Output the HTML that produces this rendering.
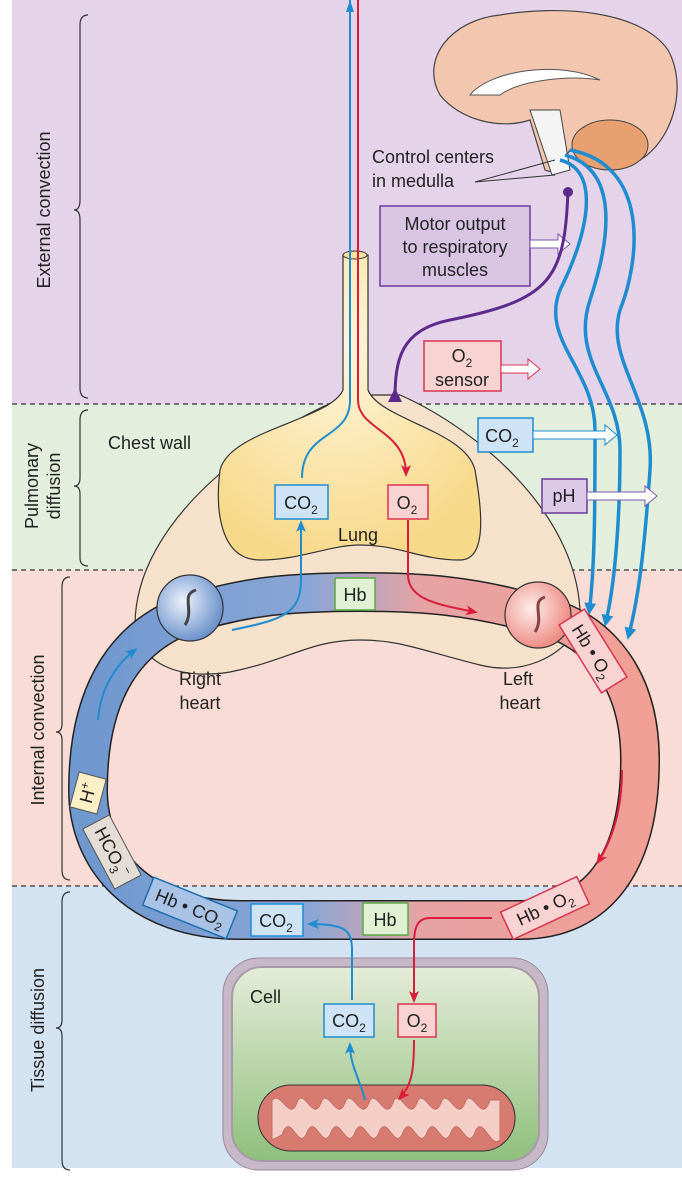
<!DOCTYPE html>
<html><head><meta charset="utf-8"><style>
body{margin:0;background:#fff}
svg{display:block;font-family:"Liberation Sans",sans-serif}
</style></head><body>
<svg width="682" height="1181" viewBox="0 0 682 1181">
<defs>
<linearGradient id="tube" x1="0" x2="1" y1="0" y2="0">
<stop offset="0" stop-color="#6f98cf"/><stop offset="0.4" stop-color="#8aa6d6"/><stop offset="0.6" stop-color="#e6a3a4"/><stop offset="1" stop-color="#f29f95"/></linearGradient>
<radialGradient id="lungg" cx="0.45" cy="0.3" r="0.7"><stop offset="0" stop-color="#fff6dc"/><stop offset="1" stop-color="#f7d98a"/></radialGradient>
<linearGradient id="cellg" x1="0" x2="0" y1="0" y2="1"><stop offset="0" stop-color="#e4ecd8"/><stop offset="1" stop-color="#8fbf7c"/></linearGradient>
<radialGradient id="rh" cx="0.4" cy="0.4" r="0.6"><stop offset="0" stop-color="#eef2fb"/><stop offset="1" stop-color="#6d93cc"/></radialGradient>
<radialGradient id="lh" cx="0.4" cy="0.4" r="0.6"><stop offset="0" stop-color="#fdeeea"/><stop offset="1" stop-color="#ee8c85"/></radialGradient>
<marker id="ab" markerUnits="userSpaceOnUse" markerWidth="12" markerHeight="12" refX="9" refY="6" orient="auto"><path d="M0,1 L12,6 L0,11 L3,6 Z" fill="#1f8ccf"/></marker>
<marker id="ar" markerUnits="userSpaceOnUse" markerWidth="12" markerHeight="12" refX="9" refY="6" orient="auto"><path d="M0,1 L12,6 L0,11 L3,6 Z" fill="#d91e3c"/></marker>
<marker id="tb" markerUnits="userSpaceOnUse" markerWidth="12" markerHeight="12" refX="2" refY="6" orient="auto"><path d="M0,0 L12,6 L0,12 Z" fill="#1f8ccf"/></marker>
</defs>
<rect x="12" y="0" width="670" height="404" fill="#e4d3e9"/>
<rect x="12" y="404" width="670" height="166" fill="#e4eedc"/>
<rect x="12" y="570" width="670" height="316" fill="#f8dcd5"/>
<rect x="12" y="886" width="670" height="282" fill="#d4e3f2"/>
<g stroke="#333" stroke-dasharray="5,4" stroke-width="1.2">
<line x1="12" y1="404" x2="682" y2="404"/><line x1="12" y1="570" x2="682" y2="570"/><line x1="12" y1="886" x2="682" y2="886"/></g>
<g fill="none" stroke="#333" stroke-width="1.2">
<path d="M88,15 Q80,15 80,25 L80,200 Q80,210 74,210 Q80,210 80,220 L80,388 Q80,398 88,398"/>
<path d="M88,410 Q80,410 80,420 L80,478 Q80,486 74,486 Q80,486 80,494 L80,558 Q80,566 88,566"/>
<path d="M70,577 Q62,577 62,587 L62,724 Q62,732 56,732 Q62,732 62,740 L62,870 Q62,880 70,880"/>
<path d="M70,892 Q62,892 62,902 L62,1020 Q62,1028 56,1028 Q62,1028 62,1036 L62,1160 Q62,1170 70,1170"/>
</g>
<g font-size="18" fill="#222">
<text transform="translate(50,210) rotate(-90)" text-anchor="middle">External convection</text>
<text transform="translate(38,486) rotate(-90)" text-anchor="middle">Pulmonary</text>
<text transform="translate(60,486) rotate(-90)" text-anchor="middle">diffusion</text>
<text transform="translate(44,730) rotate(-90)" text-anchor="middle">Internal convection</text>
<text transform="translate(44,1030) rotate(-90)" text-anchor="middle">Tissue diffusion</text>
</g>
<path d="M135,625 C135,520 260,430 350,395 L400,395 C480,430 585,520 580,625 C560,660 520,675 480,665 C420,650 400,640 360,640 C310,640 290,660 230,672 C180,680 140,665 135,625 Z" fill="#f6e1cb" stroke="#333" stroke-width="1.2"/>
<line x1="232" y1="455" x2="250" y2="470" stroke="#333"/>
<text x="108" y="449" font-size="18" fill="#222">Chest wall</text>
<path d="M343,255 L343,390 C330,420 230,430 220,470 C215,510 220,560 260,560 C300,560 330,545 360,545 C400,545 420,560 460,560 C490,560 480,500 475,470 C465,430 380,420 368,390 L368,255 Z" fill="url(#lungg)" stroke="#333" stroke-width="1.2"/>
<ellipse cx="355" cy="255" rx="12" ry="4" fill="#f5e2a0" stroke="#333"/>
<text x="358" y="541" font-size="18" text-anchor="middle" fill="#222">Lung</text>
<path d="M350,0 L350,400 C350,440 302,430 302,478" fill="none" stroke="#1f8ccf" stroke-width="2"/>
<path d="M346,12 L350,0 L354,12 Z" fill="#1f8ccf"/>
<path d="M358,0 L358,400 C358,430 406,430 406,474" fill="none" stroke="#d91e3c" stroke-width="2" marker-end="url(#ar)"/>
<g>
<path d="M440,95 C420,60 450,20 500,15 C560,5 640,10 668,50 C690,90 670,150 630,165 C600,175 590,150 570,150 C560,165 555,175 545,170 L530,120 C500,130 460,120 440,95 Z" fill="#f3c6b0" stroke="#444" stroke-width="1.2"/>
<path d="M470,95 C490,70 560,60 600,80 C570,75 520,80 500,95 Z" fill="#fff" stroke="#555"/>
<ellipse cx="610" cy="145" rx="38" ry="25" fill="#e8a070" stroke="#444"/>
<path d="M530,110 L560,110 L570,170 L552,175 Z" fill="#f4f4f4" stroke="#444"/>
</g>
<text x="372" y="163" font-size="18" fill="#222">Control centers</text>
<text x="372" y="187" font-size="18" fill="#222">in medulla</text>
<line x1="475" y1="182" x2="555" y2="160" stroke="#333"/><line x1="475" y1="182" x2="555" y2="175" stroke="#333"/>
<rect x="380" y="206" width="150" height="80" fill="#d9c4e4" stroke="#6a3b9a" stroke-width="1.5"/>
<text x="455" y="230" font-size="18" text-anchor="middle" fill="#222">Motor output</text>
<text x="455" y="253" font-size="18" text-anchor="middle" fill="#222">to respiratory</text>
<text x="455" y="276" font-size="18" text-anchor="middle" fill="#222">muscles</text>
<path d="M530,240 L558,240 L558,234 L570,244 L558,254 L558,248 L530,248 Z" fill="#fff" stroke="#7a5aa8"/>
<path d="M568,190 C565,280 550,300 450,320 C400,330 395,360 395,400" fill="none" stroke="#5b2a8a" stroke-width="3"/>
<circle cx="568" cy="192" r="5" fill="#5b2a8a"/>
<path d="M388,402 L395,388 L402,402 Z" fill="#5b2a8a"/>
<g fill="none" stroke="#1f8ccf" stroke-width="3.5">
<path d="M560,160 C600,170 590,230 560,290 C540,340 595,370 595,430 C595,500 595,560 590,605" marker-end="url(#tb)"/>
<path d="M565,155 C620,170 610,240 590,300 C570,360 620,390 620,450 C620,520 615,580 607,617" marker-end="url(#tb)"/>
<path d="M570,150 C650,165 640,260 620,310 C605,360 655,400 650,470 C645,540 640,590 630,630" marker-end="url(#tb)"/>
</g>
<rect x="424" y="341" width="77" height="50" fill="#f9d3d2" stroke="#d9354f" stroke-width="1.5"/>
<text x="462" y="362" font-size="18" text-anchor="middle" fill="#222">O<tspan font-size="12" dy="5">2</tspan></text>
<text x="462" y="386" font-size="18" text-anchor="middle" fill="#222">sensor</text>
<path d="M501,365 L528,365 L528,359 L540,369 L528,379 L528,373 L501,373 Z" fill="#fff" stroke="#d9354f"/>
<rect x="478" y="418" width="55" height="34" fill="#cfe3f6" stroke="#1f8ccf" stroke-width="1.5"/>
<text x="502" y="442" font-size="18" text-anchor="middle" fill="#222">CO<tspan font-size="12" dy="5">2</tspan></text>
<path d="M533,431 L605,431 L605,425 L617,435 L605,445 L605,439 L533,439 Z" fill="#fff" stroke="#1f8ccf"/>
<rect x="542" y="479" width="45" height="34" fill="#dcc9e8" stroke="#6a3b9a" stroke-width="1.5"/>
<text x="564" y="502" font-size="18" text-anchor="middle" fill="#222">pH</text>
<path d="M587,492 L645,492 L645,486 L657,496 L645,506 L645,500 L587,500 Z" fill="#fff" stroke="#7a5aa8"/>
<rect x="275" y="485" width="53" height="34" fill="#cfe3f6" stroke="#1f8ccf" stroke-width="1.5"/>
<text x="301" y="509" font-size="18" text-anchor="middle" fill="#222">CO<tspan font-size="12" dy="5">2</tspan></text>
<rect x="388" y="485" width="40" height="34" fill="#f9d3d2" stroke="#d9354f" stroke-width="1.5"/>
<text x="407" y="509" font-size="18" text-anchor="middle" fill="#222">O<tspan font-size="12" dy="5">2</tspan></text>
<path d="M185,615 C120,640 88,700 88,790 C88,860 140,920 240,920 L520,920 C600,920 640,860 640,760 C640,680 600,630 540,615 C470,595 420,592 360,592 C280,592 240,598 185,615 Z" fill="none" stroke="#222" stroke-width="40"/>
<path d="M185,615 C120,640 88,700 88,790 C88,860 140,920 240,920 L520,920 C600,920 640,860 640,760 C640,680 600,630 540,615 C470,595 420,592 360,592 C280,592 240,598 185,615 Z" fill="none" stroke="url(#tube)" stroke-width="37"/>
<circle cx="190" cy="608" r="33" fill="url(#rh)" stroke="#333" stroke-width="1.2"/>
<path d="M196,590 C180,595 195,610 185,625" fill="none" stroke="#444" stroke-width="3"/>
<circle cx="538" cy="615" r="33" fill="url(#lh)" stroke="#333" stroke-width="1.2"/>
<path d="M545,597 C530,602 545,617 535,632" fill="none" stroke="#844" stroke-width="3"/>
<text x="200" y="685" font-size="18" text-anchor="middle" fill="#222">Right</text>
<text x="200" y="709" font-size="18" text-anchor="middle" fill="#222">heart</text>
<text x="518" y="685" font-size="18" text-anchor="middle" fill="#222">Left</text>
<text x="520" y="709" font-size="18" text-anchor="middle" fill="#222">heart</text>
<path d="M232,630 C280,620 301,615 301,580 L301,523" fill="none" stroke="#1f8ccf" stroke-width="2" marker-end="url(#ab)"/>
<path d="M408,520 L408,575 C408,600 440,605 475,612" fill="none" stroke="#d91e3c" stroke-width="2" marker-end="url(#ar)"/>
<rect x="335" y="578" width="40" height="32" fill="#dff0d3" stroke="#5aa845" stroke-width="1.5"/>
<text x="355" y="601" font-size="18" text-anchor="middle" fill="#222">Hb</text>
<g transform="translate(593,651) rotate(58)">
<rect x="-40" y="-15" width="80" height="30" fill="#f9d3d2" stroke="#d9354f" stroke-width="1.5"/>
<text x="0" y="7" font-size="18" text-anchor="middle" fill="#222">Hb • O<tspan font-size="12" dy="5">2</tspan></text></g>
<path d="M98,720 C100,690 115,665 135,650" fill="none" stroke="#1f8ccf" stroke-width="2" marker-end="url(#ab)"/>
<path d="M622,770 C622,810 612,840 598,862" fill="none" stroke="#d91e3c" stroke-width="2" marker-end="url(#ar)"/>
<g transform="translate(88,793) rotate(-75)"><rect x="-18" y="-14" width="36" height="28" fill="#fbefc6" stroke="#555"/><text x="0" y="6" font-size="18" text-anchor="middle" fill="#222">H<tspan font-size="12" dy="-7">+</tspan></text></g>
<g transform="translate(112,852) rotate(62)"><rect x="-34" y="-15" width="68" height="30" fill="#e3ddd6" stroke="#555"/><text x="0" y="6" font-size="18" text-anchor="middle" fill="#222">HCO<tspan font-size="12" dy="5">3</tspan><tspan font-size="12" dy="-12">−</tspan></text></g>
<g transform="translate(190,908) rotate(22)"><rect x="-45" y="-15" width="90" height="30" fill="#a9c3e6" stroke="#1f6fb0" stroke-width="1.5"/><text x="0" y="6" font-size="18" text-anchor="middle" fill="#222">Hb • CO<tspan font-size="12" dy="5">2</tspan></text></g>
<rect x="251" y="904" width="52" height="32" fill="#cfe3f6" stroke="#1f8ccf" stroke-width="1.5"/>
<text x="276" y="927" font-size="18" text-anchor="middle" fill="#222">CO<tspan font-size="12" dy="5">2</tspan></text>
<rect x="363" y="903" width="45" height="32" fill="#dff0d3" stroke="#5aa845" stroke-width="1.5"/>
<text x="385" y="926" font-size="18" text-anchor="middle" fill="#222">Hb</text>
<g transform="translate(545,908) rotate(-25)"><rect x="-42" y="-15" width="84" height="30" fill="#f9d3d2" stroke="#d9354f" stroke-width="1.5"/><text x="0" y="6" font-size="18" text-anchor="middle" fill="#222">Hb • O<tspan font-size="12" dy="5">2</tspan></text></g>
<rect x="223" y="958" width="325" height="212" rx="36" fill="#c7b8c7" stroke="#9a8a9a"/>
<rect x="232" y="967" width="307" height="194" rx="30" fill="url(#cellg)" stroke="#a898a8" stroke-width="2"/>
<text x="250" y="1003" font-size="18" fill="#222">Cell</text>
<rect x="258" y="1085" width="257" height="66" rx="33" fill="#d77b70" stroke="#333"/>
<path d="M272,1140 L272,1100 C282,1090 290,1125 298,1100 C306,1090 314,1125 322,1100 C330,1090 338,1125 346,1100 C354,1090 362,1125 370,1100 C378,1090 386,1125 394,1100 C402,1090 410,1125 418,1100 C426,1090 434,1125 442,1100 C450,1090 458,1125 466,1100 C474,1090 482,1125 490,1100 L500,1100 L500,1140 C490,1150 482,1110 474,1135 C466,1150 458,1110 450,1135 C442,1150 434,1110 426,1135 C418,1150 410,1110 402,1135 C394,1150 386,1110 378,1135 C370,1150 362,1110 354,1135 C346,1150 338,1110 330,1135 C322,1150 314,1110 306,1135 C298,1150 290,1110 282,1135 Z" fill="#f4cdc4" stroke="#c07068"/>
<rect x="324" y="1004" width="50" height="33" fill="#cfe3f6" stroke="#1f8ccf" stroke-width="1.5"/>
<text x="349" y="1027" font-size="18" text-anchor="middle" fill="#222">CO<tspan font-size="12" dy="5">2</tspan></text>
<rect x="398" y="1004" width="38" height="33" fill="#f9d3d2" stroke="#d9354f" stroke-width="1.5"/>
<text x="417" y="1027" font-size="18" text-anchor="middle" fill="#222">O<tspan font-size="12" dy="5">2</tspan></text>
<path d="M352,1000 L352,950 C352,930 345,924 310,924" fill="none" stroke="#1f8ccf" stroke-width="2" marker-end="url(#ab)"/>
<path d="M492,918 L430,918 C416,918 414,930 414,945 L414,1000" fill="none" stroke="#d91e3c" stroke-width="2" marker-end="url(#ar)"/>
<path d="M365,1100 C360,1080 350,1065 350,1045" fill="none" stroke="#1f8ccf" stroke-width="2" marker-end="url(#ab)"/>
<path d="M414,1040 C414,1070 412,1085 400,1098" fill="none" stroke="#d91e3c" stroke-width="2" marker-end="url(#ar)"/>
</svg>
</body></html>
